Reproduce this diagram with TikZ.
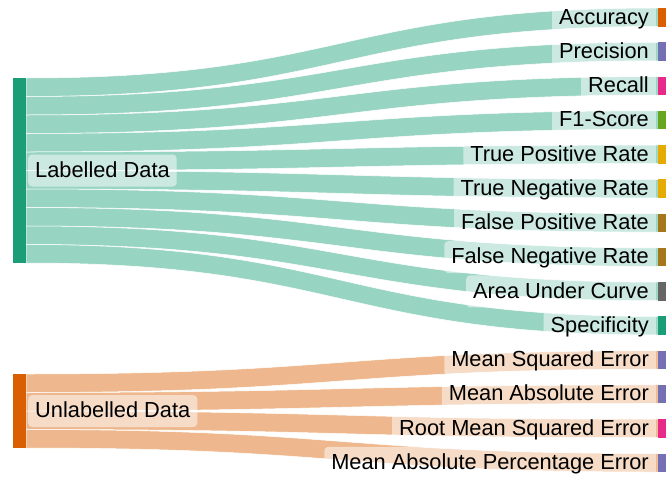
\documentclass[tikz,border=0pt]{standalone}
\usepackage{fontspec}
\setmainfont{Liberation Sans}
\definecolor{dkgreen}{RGB}{27,158,119}
\definecolor{dkorange}{RGB}{217,95,2}
\definecolor{dkpurple}{RGB}{117,112,179}
\definecolor{dkpink}{RGB}{231,41,138}
\definecolor{dklime}{RGB}{102,166,30}
\definecolor{dkyellow}{RGB}{230,171,2}
\definecolor{dkbrown}{RGB}{166,118,29}
\definecolor{dkgrey}{RGB}{102,102,102}
\definecolor{flowgreen}{RGB}{152,212,194}
\definecolor{floworange}{RGB}{238,183,141}
\tikzset{lbl/.style={fill=white, fill opacity=0.5, text opacity=1, rounded corners=4pt, inner xsep=7pt, inner ysep=0pt, minimum height=32pt, text height=16pt, text depth=2.5pt, font=\fontsize{21.8}{24}\selectfont}}
\def\flow[#1](#2:#3){\filldraw[#1, draw=white, line width=0.5pt] (26,#2) .. controls (342,#2) and (342,#3) .. (658,#3) -- (658,#3+18.5) .. controls (342,#3+18.5) and (342,#2+18.5) .. (26,#2+18.5) -- cycle;}
\begin{document}
\begin{tikzpicture}[x=1pt, y=-1pt]
			%%%%% START %%%%%
			\useasboundingbox (0,0) rectangle (666,479);
			
			\flow[fill=flowgreen](78:8);
			\flow[fill=flowgreen](96.5:42.27);
			\flow[fill=flowgreen](115:76.54);
			\flow[fill=flowgreen](133.5:110.81);
			\flow[fill=flowgreen](152:145.08);
			\flow[fill=flowgreen](170.5:179.35);
			\flow[fill=flowgreen](189:213.62);
			\flow[fill=flowgreen](207.5:247.89);
			\flow[fill=flowgreen](226:282.16);
			\flow[fill=flowgreen](244.5:316.43);
			
			\flow[fill=floworange](374:350.7);
			\flow[fill=floworange](392.5:384.97);
			\flow[fill=floworange](411:419.24);
			\flow[fill=floworange](429.5:453.51);
			
			\fill[dkgreen] (13,78) rectangle (26,263);
			\fill[dkorange] (13,374) rectangle (26,448);
			
			\fill[dkorange] (658,8) rectangle (666,26.5);
			\fill[dkpurple] (658,42.27) rectangle (666,60.77);
			\fill[dkpink] (658,76.54) rectangle (666,95.04);
			\fill[dklime] (658,110.81) rectangle (666,129.31);
			\fill[dkyellow] (658,145.08) rectangle (666,163.58);
			\fill[dkyellow] (658,179.35) rectangle (666,197.85);
			\fill[dkbrown] (658,213.62) rectangle (666,232.12);
			\fill[dkbrown] (658,247.89) rectangle (666,266.39);
			\fill[dkgrey] (658,282.16) rectangle (666,300.66);
			\fill[dkgreen] (658,316.43) rectangle (666,334.93);
			\fill[dkpurple] (658,350.7) rectangle (666,369.2);
			\fill[dkpurple] (658,384.97) rectangle (666,403.47);
			\fill[dkpink] (658,419.24) rectangle (666,437.74);
			\fill[dkpurple] (658,453.51) rectangle (666,472.01);
			
			\node[lbl, anchor=west] (labelled) at (28,170.5) {Labelled Data};
			\node[lbl, anchor=west] (unlabelled) at (28,411) {Unlabelled Data};
			
			\node[lbl, anchor=east] (accuracy) at (656,17.25) {Accuracy};
			\node[lbl, anchor=east] (precision) at (656,51.52) {Precision};
			\node[lbl, anchor=east] (recall) at (656,85.79) {Recall};
			\node[lbl, anchor=east] (fscore) at (656,120.06) {F1-Score};
			\node[lbl, anchor=east] (tpr) at (656,154.33) {True Positive Rate};
			\node[lbl, anchor=east] (tnr) at (656,188.6) {True Negative Rate};
			\node[lbl, anchor=east] (fpr) at (656,222.87) {False Positive Rate};
			\node[lbl, anchor=east] (fnr) at (656,257.14) {False Negative Rate};
			\node[lbl, anchor=east] (auc) at (656,291.41) {Area Under Curve};
			\node[lbl, anchor=east] (specificity) at (656,325.68) {Specificity};
			\node[lbl, anchor=east] (mse) at (656,359.95) {Mean Squared Error};
			\node[lbl, anchor=east] (mae) at (656,394.22) {Mean Absolute Error};
			\node[lbl, anchor=east] (rmse) at (656,428.49) {Root Mean Squared Error};
			\node[lbl, anchor=east] (mape) at (656,462.76) {Mean Absolute Percentage Error};
			
			%%%%% END %%%%%
\end{tikzpicture}
\end{document}
